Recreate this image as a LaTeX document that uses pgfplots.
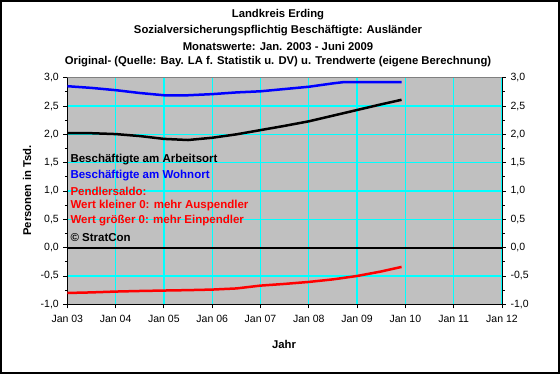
\documentclass[border=0pt]{standalone}
\usepackage{fontspec}
\setmainfont{Liberation Sans}
\usepackage{pgfplots}
\pgfplotsset{compat=1.18}
\definecolor{silver}{RGB}{192,192,192}
\definecolor{gcyan}{RGB}{0,255,255}
\definecolor{dblue}{RGB}{0,0,255}
\definecolor{dred}{RGB}{255,0,0}
\definecolor{frgray}{RGB}{128,128,128}
\newcommand\fs[1]{\fontsize{#1bp}{#1bp}\selectfont}

\pgfplotstableread{
x y
2003.0 2.02
2003.5 2.02
2004.0 2.005
2004.5 1.97
2005.0 1.92
2005.5 1.90
2006.0 1.94
2006.5 2.00
2007.0 2.075
2007.5 2.15
2008.0 2.23
2008.5 2.33
2009.0 2.43
2009.5 2.53
2009.92 2.61
}\arbeit
\pgfplotstableread{
x y
2003.0 2.85
2003.5 2.82
2004.0 2.78
2004.5 2.73
2005.0 2.69
2005.5 2.69
2006.0 2.71
2006.5 2.74
2007.0 2.76
2007.5 2.80
2008.0 2.84
2008.5 2.90
2008.7 2.92
2009.0 2.92
2009.92 2.92
}\wohn
\pgfplotstableread{
x y
2003.0 -0.80
2003.5 -0.79
2004.0 -0.775
2004.5 -0.765
2005.0 -0.757
2005.5 -0.75
2006.0 -0.74
2006.5 -0.72
2007.0 -0.67
2007.5 -0.64
2008.0 -0.605
2008.5 -0.56
2009.0 -0.50
2009.5 -0.42
2009.92 -0.34
}\saldo

\begin{document}
\begin{tikzpicture}[x=1bp,y=1bp]
\path[use as bounding box] (0,0) rectangle (560,374);
\fill[white] (0,0) rectangle (560,374);
\draw[black, line width=2bp] (1,1) rectangle (559,373);

\pgfplotsset{
  common/.style={
    at={(67.3bp,69.7bp)}, anchor=south west,
    scale only axis, width=434.7bp, height=226.6bp,
    xmin=2003, xmax=2012, ymin=-1, ymax=3,
    ytick={-1,-0.5,...,3}, minor y tick num=1,
    tick align=outside,
    major tick length=4bp, minor tick length=2.5bp,
    tick style={black, line width=0.8bp},
    yticklabel style={/pgf/number format/fixed, /pgf/number format/fixed zerofill, /pgf/number format/precision=1, /pgf/number format/use comma, /pgf/number format/assume math mode=true},
    ticklabel style={font=\fs{10.5}},
  }
}

\begin{axis}[common,
  axis background/.style={fill=silver},
  xtick={2003,...,2012},
  xticklabels={Jan 03,Jan 04,Jan 05,Jan 06,Jan 07,Jan 08,Jan 09,Jan 10,Jan 11,Jan 12},
  minor x tick num=11,
  grid=major,
  major grid style={gcyan, line width=1.3bp},
  axis line style={black, line width=1bp},
  ytick pos=left, xtick pos=bottom,
  xticklabel style={yshift=-3bp},
  yticklabel style={xshift=-1bp},
]
\draw[black, line width=2.2bp] (axis cs:2003,0) -- (axis cs:2012,0);
\draw[frgray, line width=1bp] (rel axis cs:0,1) -- (rel axis cs:1,1);
\addplot[dblue, line width=2.5bp, no marks] table[x=x,y=y] {\wohn};
\addplot[black, line width=2.5bp, no marks] table[x=x,y=y] {\arbeit};
\addplot[dred, line width=2.5bp, no marks] table[x=x,y=y] {\saldo};
\end{axis}

\begin{axis}[common,
  axis x line=none,
  axis y line*=right,
  axis line style={black, line width=1bp},
  yticklabel style={xshift=1bp},
]
\addplot[draw=none] coordinates {(2003,0)};
\end{axis}

\node[font=\fs{11.3}\bfseries] at (278,374-15) {Landkreis Erding};
\node[font=\fs{11.3}\bfseries] at (278,374-30.5) {Sozialversicherungspflichtig Beschäftigte: Ausländer};
\node[font=\fs{11.3}\bfseries] at (278,374-46) {Monatswerte: Jan. 2003 - Juni 2009};
\node[font=\fs{11.3}\bfseries] at (278,374-61.5) {Original- (Quelle: Bay. LA f. Statistik u. DV) u. Trendwerte (eigene Berechnung)};

\node[font=\fs{11.3}\bfseries, rotate=90] at (27,374-190.5) {Personen in Tsd.};
\node[font=\fs{11.3}\bfseries] at (284,374-344) {Jahr};

\node[font=\fs{11.5}\bfseries, anchor=west, text=black] at (67,374-160) {Beschäftigte am Arbeitsort};
\node[font=\fs{11.5}\bfseries, anchor=west, text=dblue] at (67,374-175.5) {Beschäftigte am Wohnort};
\node[font=\fs{11.5}\bfseries, anchor=west, text=dred] at (67,374-191) {Pendlersaldo:};
\node[font=\fs{11.5}\bfseries, anchor=west, text=dred] at (67,374-206) {Wert kleiner 0: mehr Auspendler};
\node[font=\fs{11.5}\bfseries, anchor=west, text=dred] at (67,374-221) {Wert größer 0: mehr Einpendler};
\node[font=\fs{11.5}\bfseries, anchor=west, text=black] at (67,374-237.5) {© StratCon};
\end{tikzpicture}
\end{document}
